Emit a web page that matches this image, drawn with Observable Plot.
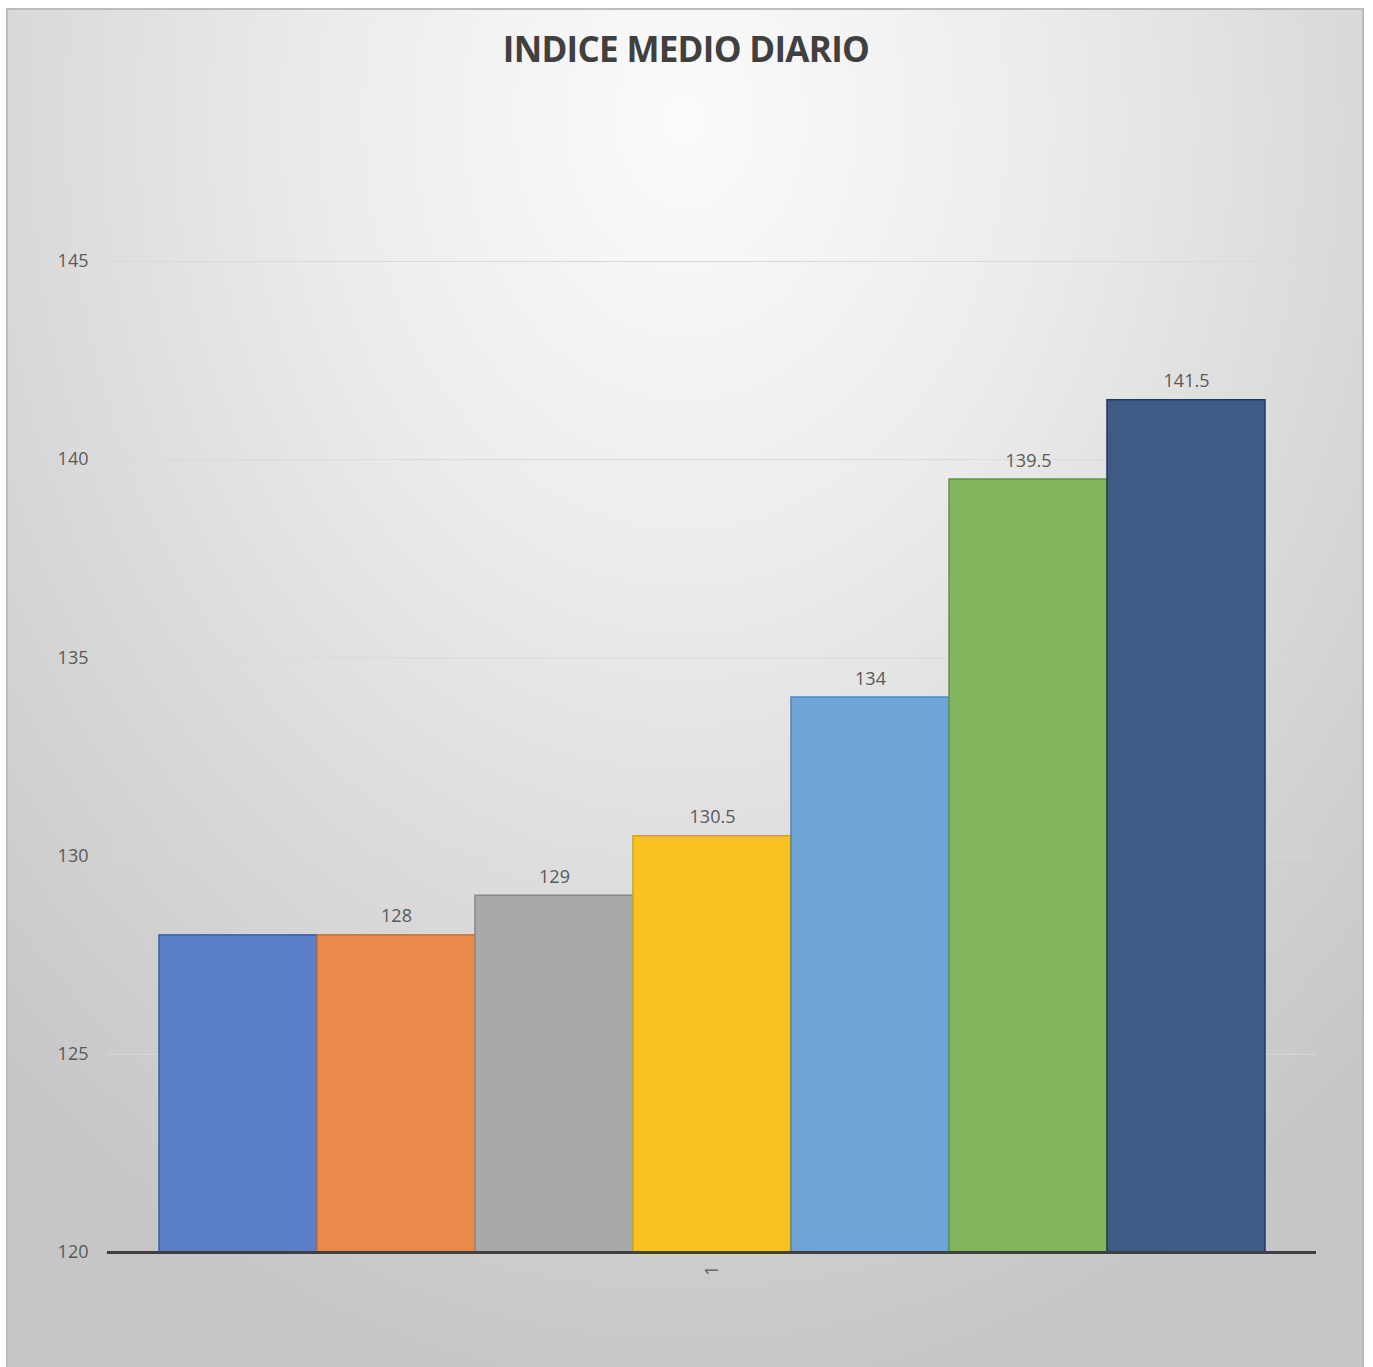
<!DOCTYPE html>
<html>
<head>
<meta charset="utf-8">
<script src="https://cdn.jsdelivr.net/npm/d3@7"></script>
<script src="https://cdn.jsdelivr.net/npm/@observablehq/plot@0.6"></script>
<style>
  html, body { margin: 0; padding: 0; background: #ffffff; }
  body { width: 1373px; height: 1367px; position: relative; overflow: hidden; font-family: "Open Sans", sans-serif; }
  #frame {
    position: absolute; left: 6px; top: 8px; width: 1358px; height: 1366px;
    border: 2px solid #bcbcbc; box-sizing: border-box;
    background: radial-gradient(ellipse 75% 95% at 50% 8%, #fbfbfb 0%, #ececec 35%, #dadada 65%, #c6c6c6 100%);
  }
  #title {
    position: absolute; left: 6px; width: 1360px; top: 25px; text-align: center;
    font-family: "Open Sans", sans-serif; font-weight: 700; font-size: 35px; color: #404040;
    letter-spacing: -0.7px;
  }
  #chart { position: absolute; left: 0; top: 0; }
</style>
</head>
<body>
<div id="frame"></div>
<div id="title">INDICE MEDIO DIARIO</div>
<div id="chart"></div>
<script>
const category = ["1"];
const series = ["Serie1", "Serie2", "Serie3", "Serie4", "Serie5", "Serie6", "Serie7"];
const values = [128, 128, 129, 130.5, 134, 139.5, 141.5];
const labels = ["", "128", "129", "130.5", "134", "139.5", "141.5"];
const fills = ["#5a7fc6", "#e98a4b", "#a9a9a9", "#f9c221", "#6fa5d6", "#82b55e", "#3e5a85"];
const strokes = ["#3460a8", "#c86e30", "#888888", "#d8a500", "#4a86c0", "#5f9440", "#223a60"];
const yTicks = [120, 125, 130, 135, 140, 145];
const gridTicks = [125, 130, 135, 140, 145];

const data = series.map((s, i) => ({cat: category[0], series: s, value: values[i], label: labels[i]}));

const chart = Plot.plot({
  width: 1373,
  height: 1367,
  marginLeft: 107,
  marginRight: 57,
  marginTop: 261,
  marginBottom: 115,
  style: {background: "transparent", fontFamily: "Open Sans, sans-serif"},
  fx: {domain: category, padding: 0, label: null},
  x: {domain: series, paddingInner: 0, paddingOuter: 0.323, axis: null},
  y: {domain: [120, 145], label: null},
  color: {domain: series, range: fills},
  marks: [
    Plot.gridY(gridTicks, {stroke: "#d9d9d9", strokeOpacity: 1, strokeWidth: 1}),
    Plot.axisY(yTicks, {tickSize: 0, tickPadding: 19, fontSize: 18, fill: "#595959", label: null}),
    Plot.axisFx({anchor: "bottom", tickSize: 0, tickPadding: 13, tickRotate: -90, fontSize: 18, fill: "#595959", label: null}),
    Plot.barY(data, {fx: "cat", x: "series", y1: 120, y2: "value", fill: "series",
      stroke: (d, i) => strokes[i], strokeWidth: 1.5}),
    Plot.text(data, {fx: "cat", x: "series", y: "value", text: "label", lineAnchor: "bottom", dy: -13,
      fontSize: 18, fill: "#595959"}),
    Plot.ruleY([120], {stroke: "#404040", strokeWidth: 3})
  ]
});
document.getElementById("chart").appendChild(chart);
</script>
</body>
</html>
